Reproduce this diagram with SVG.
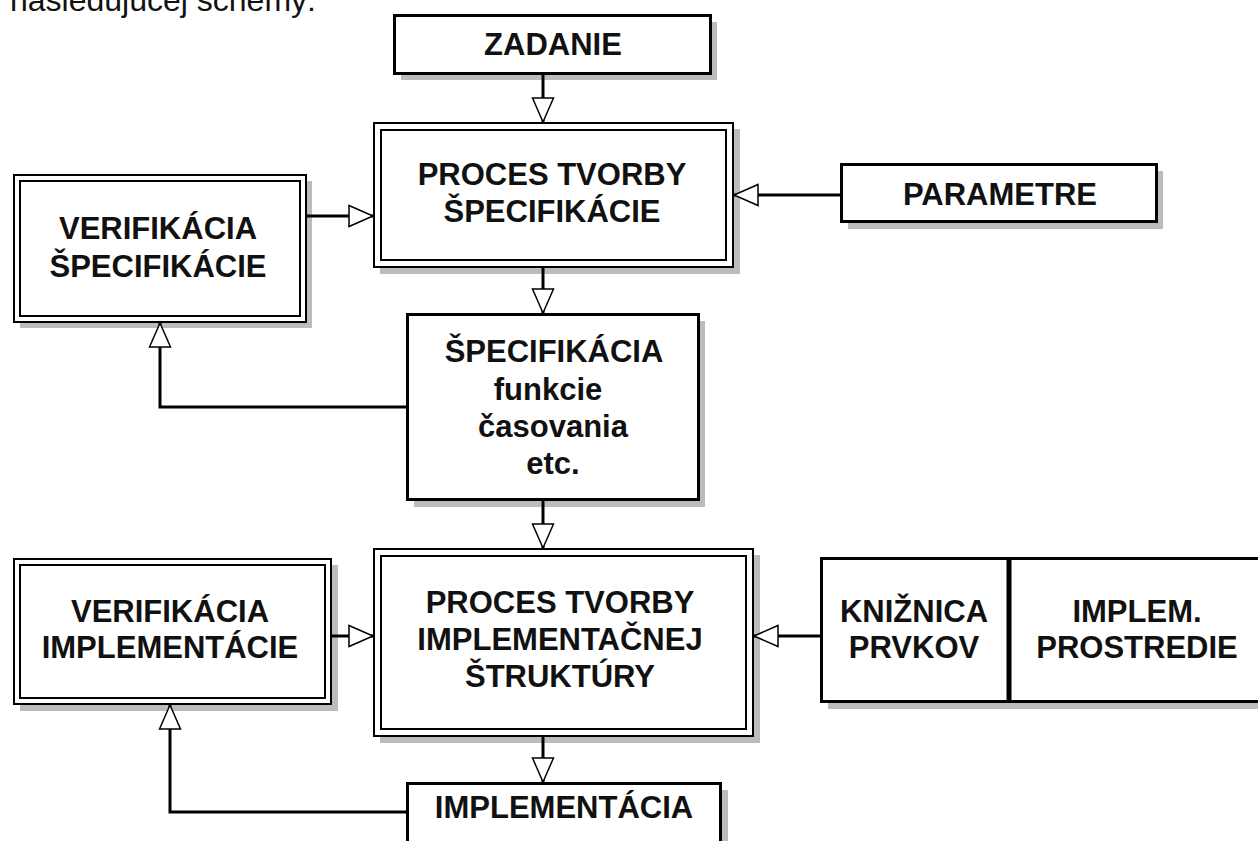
<svg xmlns="http://www.w3.org/2000/svg" width="1258" height="841" viewBox="0 0 1258 841">
<style>
  .t{font-family:"Liberation Sans",Arial,sans-serif;font-weight:bold;font-size:31px;fill:#111;text-anchor:middle}
  .h{font-family:"Liberation Sans",Arial,sans-serif;font-size:32px;fill:#111}
  .sh{fill:#bcbcbc;stroke:none}
  .b3{fill:#fff;stroke:#000;stroke-width:3}
  .b2{fill:#fff;stroke:#000;stroke-width:2}
  .b2n{fill:none;stroke:#000;stroke-width:2}
  .c{fill:none;stroke:#000;stroke-width:3}
</style>
<defs>
  <marker id="tri" markerUnits="userSpaceOnUse" markerWidth="28" markerHeight="26" viewBox="-2 -2 28 26" refX="24" refY="10.5" orient="auto">
    <path d="M0,0 L24,10.5 L0,21 Z" fill="#fff" stroke="#000" stroke-width="1.5"/>
  </marker>
</defs>
<rect width="1258" height="841" fill="#fff"/>
<text class="h" x="10" y="11">nasledujúcej schémy:</text>

<g id="zadanie">
  <rect class="sh" x="401" y="22" width="316" height="58"/>
  <rect class="b3" x="394.5" y="15.5" width="316" height="58"/>
  <text class="t" x="553" y="55">ZADANIE</text>
</g>

<g id="proces-spec">
  <rect class="sh" x="380" y="129" width="360" height="145"/>
  <rect class="b2" x="374" y="123" width="359" height="144"/>
  <rect class="b2n" x="381" y="130" width="345" height="130"/>
  <text class="t" x="552" y="185">PROCES TVORBY</text>
  <text class="t" x="552" y="222">ŠPECIFIKÁCIE</text>
</g>

<g id="verif-spec">
  <rect class="sh" x="20" y="181" width="292" height="147"/>
  <rect class="b2" x="14" y="175" width="292" height="147"/>
  <rect class="b2n" x="20" y="181" width="280" height="135"/>
  <text class="t" x="158" y="239">VERIFIKÁCIA</text>
  <text class="t" x="158" y="277">ŠPECIFIKÁCIE</text>
</g>

<g id="parametre">
  <rect class="sh" x="848" y="171" width="315" height="58"/>
  <rect class="b3" x="841.5" y="164.5" width="315" height="57"/>
  <text class="t" x="1000" y="205">PARAMETRE</text>
</g>

<g id="specifikacia">
  <rect class="sh" x="414" y="321" width="291" height="186"/>
  <rect class="b3" x="407.5" y="314.5" width="291" height="185"/>
  <text class="t" x="554" y="362">ŠPECIFIKÁCIA</text>
  <text class="t" x="548" y="400">funkcie</text>
  <text class="t" x="553" y="437">časovania</text>
  <text class="t" x="553" y="474">etc.</text>
</g>

<g id="verif-impl">
  <rect class="sh" x="20" y="565" width="318" height="146"/>
  <rect class="b2" x="14" y="559" width="317" height="145"/>
  <rect class="b2n" x="20" y="565" width="305" height="133"/>
  <text class="t" x="170" y="622">VERIFIKÁCIA</text>
  <text class="t" x="170" y="658">IMPLEMENTÁCIE</text>
</g>

<g id="proces-impl">
  <rect class="sh" x="380" y="555" width="380" height="188"/>
  <rect class="b2" x="374" y="549" width="379" height="187"/>
  <rect class="b2n" x="381" y="556" width="365" height="173"/>
  <text class="t" x="560" y="613">PROCES TVORBY</text>
  <text class="t" x="560" y="650">IMPLEMENTAČNEJ</text>
  <text class="t" x="560" y="687">ŠTRUKTÚRY</text>
</g>

<g id="kniznica">
  <rect class="sh" x="828" y="565" width="450" height="144"/>
  <rect class="b3" x="821.5" y="558.5" width="450" height="143"/>
  <line x1="1009" y1="558" x2="1009" y2="702" stroke="#000" stroke-width="5"/>
  <text class="t" x="914" y="622">KNIŽNICA</text>
  <text class="t" x="914" y="658">PRVKOV</text>
  <text class="t" x="1137" y="622">IMPLEM.</text>
  <text class="t" x="1137" y="658">PROSTREDIE</text>
</g>

<g id="implementacia">
  <rect class="sh" x="414" y="790" width="314" height="70"/>
  <rect class="b3" x="407.5" y="783.5" width="313" height="70"/>
  <text class="t" x="564" y="818">IMPLEMENTÁCIA</text>
</g>

<g id="connectors">
  <path class="c" d="M543,75 V122" marker-end="url(#tri)"/>
  <path class="c" d="M543,268 V313" marker-end="url(#tri)"/>
  <path class="c" d="M307,216 H373" marker-end="url(#tri)"/>
  <path class="c" d="M840,195 H734" marker-end="url(#tri)"/>
  <path class="c" d="M406,407 H160 V323" marker-end="url(#tri)"/>
  <path class="c" d="M543,501 V548" marker-end="url(#tri)"/>
  <path class="c" d="M332,636 H373" marker-end="url(#tri)"/>
  <path class="c" d="M820,636 H754" marker-end="url(#tri)"/>
  <path class="c" d="M543,737 V782" marker-end="url(#tri)"/>
  <path class="c" d="M406,812 H170 V705" marker-end="url(#tri)"/>
</g>
</svg>
